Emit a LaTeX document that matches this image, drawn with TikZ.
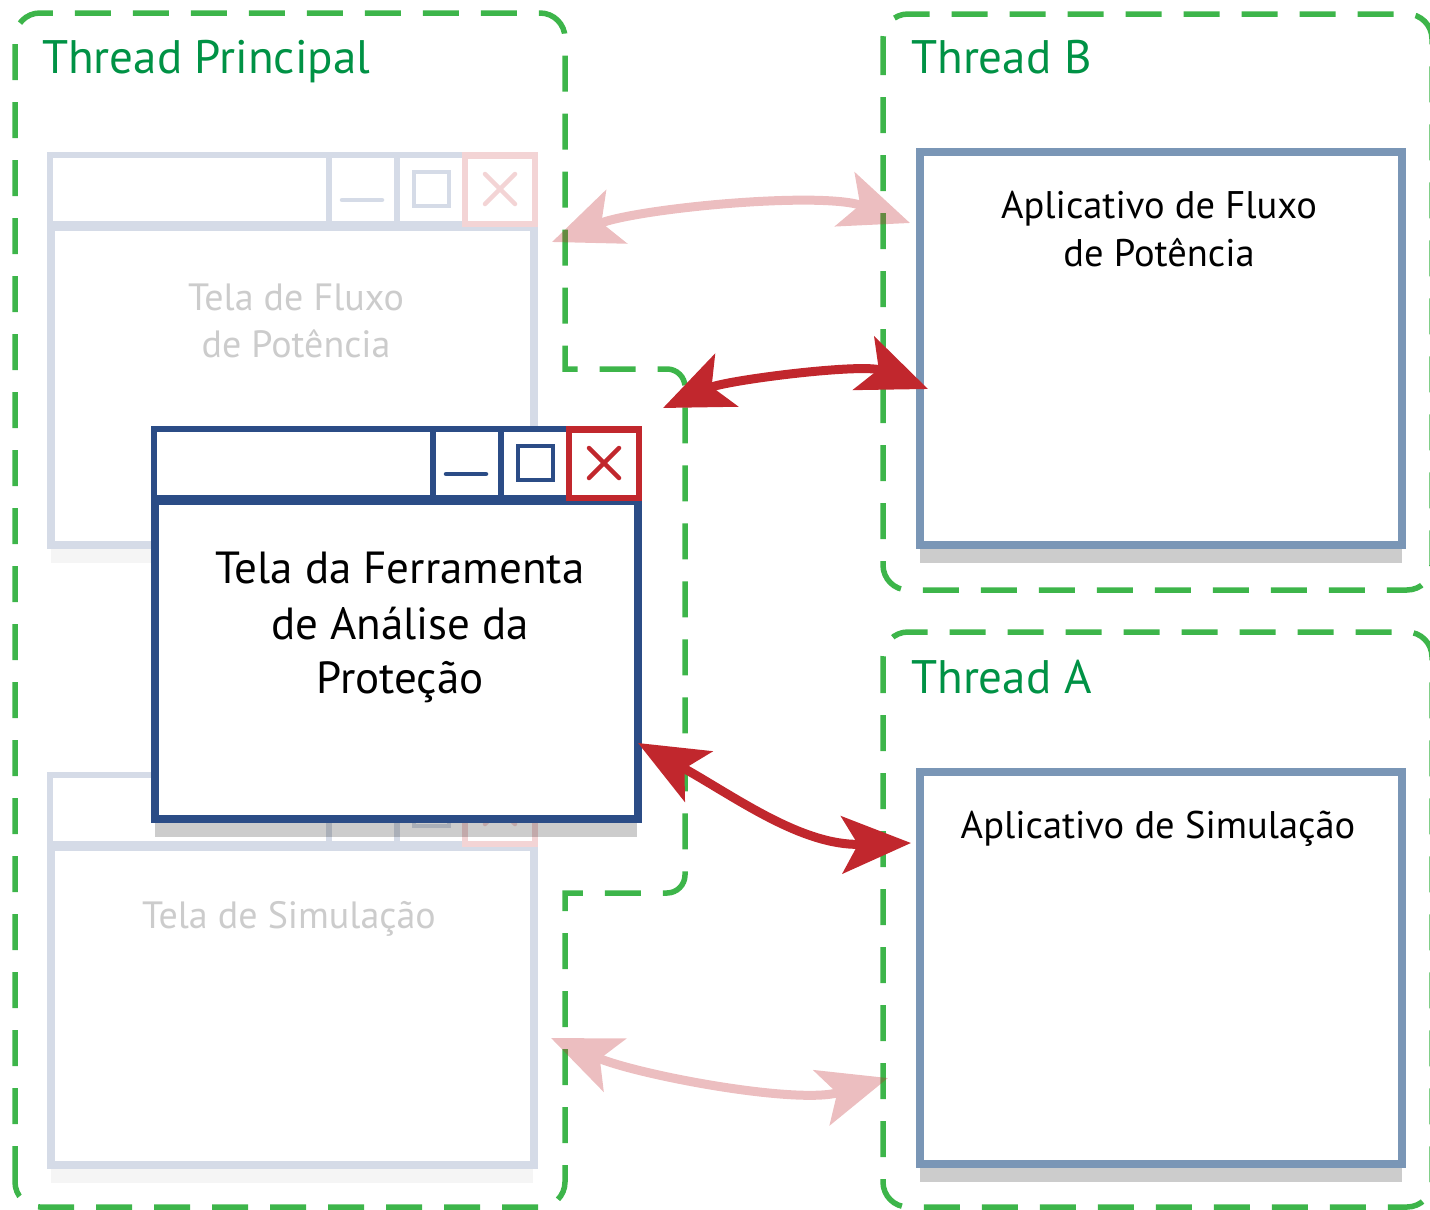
\documentclass[tikz,border=0pt]{standalone}
\usepackage{fontspec}
\setmainfont{PT Sans}
\usetikzlibrary{arrows.meta}

\definecolor{threadline}{RGB}{61,181,74}
\definecolor{titlegreen}{RGB}{0,146,69}
\definecolor{winblue}{RGB}{43,76,134}
\definecolor{winred}{RGB}{193,39,45}
\definecolor{appframe}{RGB}{122,150,182}
\definecolor{fadeblue}{RGB}{213,219,231}
\definecolor{fadered}{RGB}{243,212,213}
\definecolor{fadetext}{RGB}{204,204,204}

\tikzset{
  threadbox/.style={draw=threadline, line width=5.5pt, dash pattern=on 36pt off 22pt},
  threadtitle/.style={text=titlegreen, font=\fontsize{47}{56}\selectfont, anchor=base west, inner sep=0pt},
  apptext/.style={font=\fontsize{38.5}{46}\selectfont, anchor=base, inner sep=0pt},
  fadedtext/.style={text=fadetext, font=\fontsize{38}{46}\selectfont, anchor=base, inner sep=0pt},
  maintext/.style={font=\fontsize{45}{54}\selectfont, anchor=base, inner sep=0pt},
  appbox/.style={draw=appframe, line width=8pt, fill=white},
  appshadow/.style={fill=black, fill opacity=0.2},
  bigtip/.tip={Stealth[length=69pt, width=57pt, inset=16pt]},
  link/.style={line width=9pt, bigtip-bigtip},
  % a window: title bar with buttons, body and drop shadow
  pics/window/.style n args={3}{code={
    \fill[black, fill opacity=#3] (4,397) rectangle (486,411);
    \draw[draw=#1, line width=8pt, fill=white] (4,75) rectangle (487,393);
    \draw[draw=#1, line width=6pt, fill=white] (3,3) rectangle (488,72);
    \draw[draw=#1, line width=6.5pt] (282,0) -- (282,75) (350,0) -- (350,75);
    \draw[draw=#2, line width=6.5pt] (418,3.25) rectangle (487.75,71.75);
    \draw[draw=#1, line width=4.5pt, line cap=round] (295,48) -- (335,48);
    \draw[draw=#1, line width=4.5pt] (367,20) rectangle (402,54);
    \draw[draw=#2, line width=4.5pt, line cap=round] (438,22) -- (468,52) (438,52) -- (468,22);
  }}
}

\begin{document}
\begin{tikzpicture}[x=1pt, y=-1pt]
\useasboundingbox (0,0) rectangle (1430,1210);

% thread containers
\draw[threadbox] (15,1182) -- (15,38) .. controls (15,24.2) and (26.2,13) .. (40,13)
  -- (540,13) .. controls (553.8,13) and (565,24.2) .. (565,38)
  -- (565,369) -- (667,369) .. controls (676.9,369) and (685,377.1) .. (685,387)
  -- (685,875) .. controls (685,884.9) and (676.9,893) .. (667,893)
  -- (565,893) -- (565,1182) .. controls (565,1195.8) and (553.8,1207) .. (540,1207)
  -- (40,1207) .. controls (26.2,1207) and (15,1195.8) .. (15,1182) -- cycle;
\draw[threadbox, rounded corners=25pt] (883,14) rectangle (1432,590);
\draw[threadbox, rounded corners=25pt] (883,632) rectangle (1432,1207);

\node[threadtitle] (tmain) at (42,73) {Thread Principal};
\node[threadtitle] (tb) at (911,73) {Thread B};
\node[threadtitle] (ta) at (911,693) {Thread A};

% background windows of the main thread
\pic (winfluxo) at (47,152) {window={fadeblue}{fadered}{0.04}};
\node[fadedtext] (tfluxo1) at (296,310) {Tela de Fluxo};
\node[fadedtext] (tfluxo2) at (296,357) {de Potência};
\pic (winsim) at (47,772) {window={fadeblue}{fadered}{0.04}};
\node[fadedtext] (tsim) at (289,928) {Tela de Simulação};

% applications in the worker threads
\fill[appshadow] (920,549) rectangle (1402,563);
\draw[appbox] (920,152) rectangle (1402,545);
\node[apptext] (afluxo1) at (1159,218) {Aplicativo de Fluxo};
\node[apptext] (afluxo2) at (1159,266) {de Potência};
\fill[appshadow] (920,1168) rectangle (1402,1182);
\draw[appbox] (920,772) rectangle (1402,1164);
\node[apptext] (asim) at (1158,838) {Aplicativo de Simulação};

% active window
\pic (winprot) at (151,426) {window={winblue}{winred}{0.2}};
\node[maintext] (tprot1) at (400,583) {Tela da Ferramenta};
\node[maintext] (tprot2) at (400,639) {de Análise da};
\node[maintext] (tprot3) at (400,693) {Proteção};

% message links
\coordinate (fluxoL) at (552,242);
\coordinate (fluxoR) at (910,223);
\coordinate (protTop) at (663,408);
\coordinate (appBin) at (928,389);
\coordinate (protSide) at (638,743);
\coordinate (appAin) at (911,843);
\coordinate (simL) at (551,1038);
\coordinate (simR) at (888,1078);

\begin{scope}[transparency group, opacity=0.3]
\draw[link, draw=winred] (fluxoL) .. controls (639,208) and (822,191) .. (fluxoR);
\end{scope}
\begin{scope}[transparency group, opacity=0.3]
\draw[link, draw=winred] (simL) .. controls (638,1075) and (797,1105) .. (simR);
\end{scope}
\draw[link, draw=winred] (protTop) .. controls (727,380) and (863,363) .. (appBin);
\draw[link, draw=winred] (protSide) .. controls (734,796) and (801,846) .. (appAin);
\end{tikzpicture}
\end{document}
